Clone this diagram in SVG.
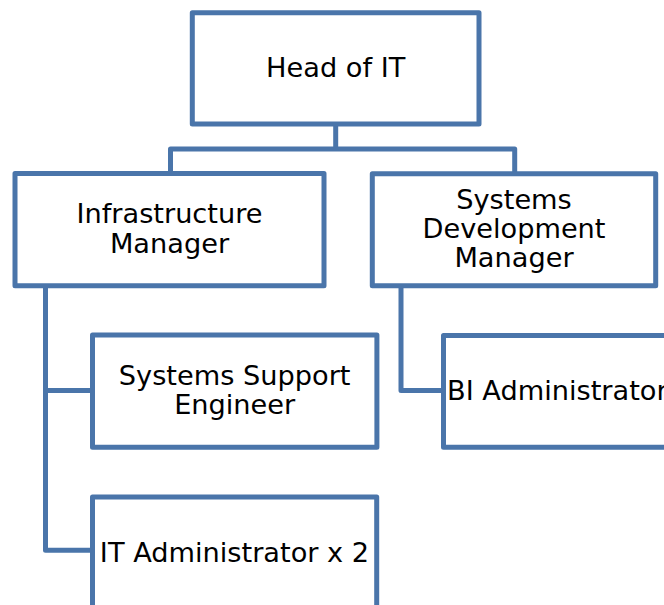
<svg xmlns="http://www.w3.org/2000/svg" width="664" height="605" viewBox="0 0 664 605">
<style>
.box{fill:#fff;stroke:#4A75AA;stroke-width:5;stroke-linejoin:round}
.con{fill:none;stroke:#4A75AA;stroke-width:5;stroke-linejoin:round}
.t{font-family:"DejaVu Sans",Verdana,sans-serif;font-size:27.2px;fill:#000;text-anchor:middle}
</style>
<rect width="664" height="605" fill="#fff"/>
<g id="connectors">
<path class="con" d="M335.7,124 V149 M170.5,173.5 V149 H514.7 V173.5"/>
<path class="con" d="M45.5,285.7 V550.3 H92.5 M45.5,390.5 H92.5"/>
<path class="con" d="M401,285.7 V390.5 H443.5"/>
</g>
<g id="head">
<rect class="box" x="192.3" y="12.7" width="286.7" height="111.3"/>
<text class="t" x="335.7" y="77">Head of IT</text>
</g>
<g id="infra">
<rect class="box" x="15" y="173.5" width="309" height="112.2"/>
<text class="t" x="169.5" y="223.3">Infrastructure</text>
<text class="t" x="169.5" y="252.7">Manager</text>
</g>
<g id="sysdev">
<rect class="box" x="372.3" y="173.7" width="283.4" height="112"/>
<text class="t" x="514" y="209.3">Systems</text>
<text class="t" x="514" y="238.3">Development</text>
<text class="t" x="514" y="267.3">Manager</text>
</g>
<g id="sse">
<rect class="box" x="92.5" y="335" width="284.4" height="112.3"/>
<text class="t" x="234.7" y="385">Systems Support</text>
<text class="t" x="234.7" y="414">Engineer</text>
</g>
<g id="bi">
<rect class="box" x="443.5" y="335.5" width="284.4" height="111.8"/>
<text class="t" x="447" y="400" style="text-anchor:start">BI Administrator</text>
</g>
<g id="itadmin">
<rect class="box" x="92.5" y="497" width="284.2" height="112"/>
<text class="t" x="234.5" y="562.3">IT Administrator x 2</text>
</g>
</svg>
